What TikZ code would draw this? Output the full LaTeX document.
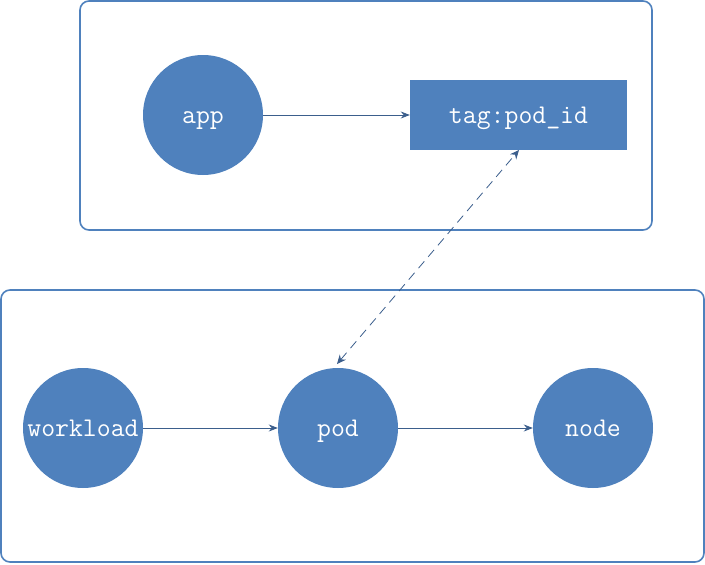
\documentclass[tikz,border=0pt]{standalone}
\usetikzlibrary{arrows.meta}
\definecolor{fillblue}{HTML}{4F81BD}
\definecolor{lineblue}{HTML}{3B5E8C}
\tikzset{
  container/.style={draw=fillblue, line width=1.6pt, rounded corners=9pt, inner sep=0pt},
  txt/.style={text=white, font=\fontsize{27}{30}\selectfont\ttfamily, text height=18pt, text depth=2pt},
  circ/.style={circle, fill=fillblue, minimum size=120pt, inner sep=0pt, txt},
  tagbox/.style={rectangle, fill=fillblue, minimum width=217pt, minimum height=70pt, inner sep=0pt, txt},
  conn/.style={draw=lineblue, line width=0.8pt, -{Stealth[length=9pt,width=7pt]}},
  dconn/.style={draw=lineblue, line width=0.8pt, dash pattern=on 9pt off 6pt, {Stealth[length=9pt,width=8pt]}-{Stealth[length=9pt,width=8pt]}}
}
\begin{document}
\begin{tikzpicture}[x=1pt,y=-1pt]
\useasboundingbox (0,0) rectangle (705,565);
\node[container, minimum width=572pt, minimum height=229pt] (top) at (366,115.5) {};
\node[container, minimum width=703pt, minimum height=272pt] (bottom) at (352.5,426) {};
\node[circ] (app) at (203,115) {app};
\node[tagbox] (tag) at (518.5,115) {tag:pod\_id};
\node[circ] (workload) at (83,428) {workload};
\node[circ] (pod) at (338,428) {pod};
\node[circ] (node) at (593,428) {node};
\draw[conn] (app) -- (tag);
\draw[conn] (workload) -- (pod);
\draw[conn] (pod) -- (node);
\coordinate (podtop) at (337,364);
\coordinate (tagbot) at (519,150);
\draw[dconn] (podtop) -- (tagbot);
\end{tikzpicture}
\end{document}
